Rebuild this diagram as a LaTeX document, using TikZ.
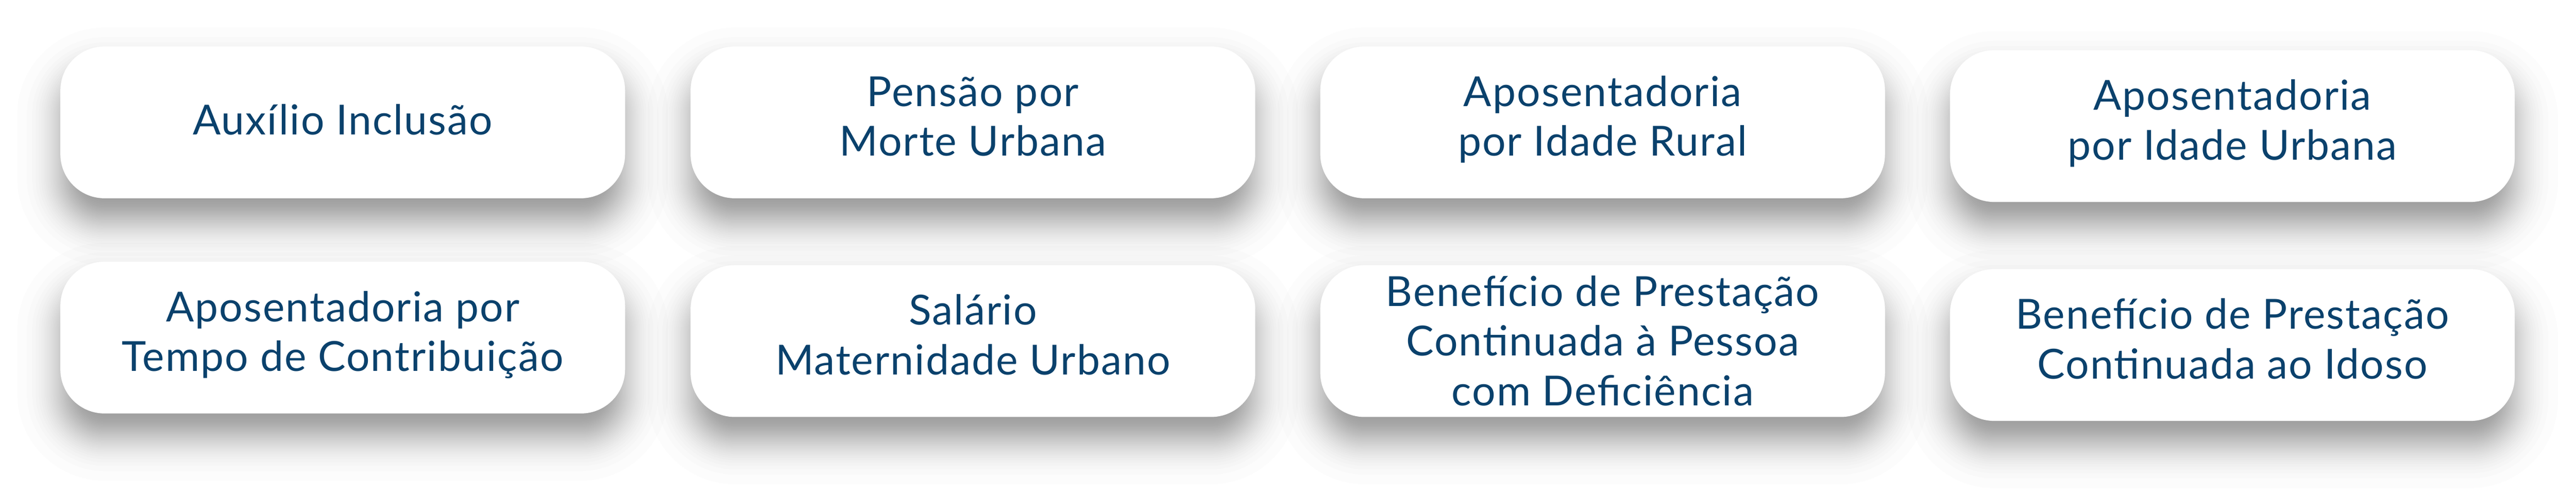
\documentclass[tikz,border=0pt]{standalone}
\usepackage{fontspec}
\setmainfont{Lato}[LetterSpace=2.6]
\definecolor{txtblue}{RGB}{10,65,108}
\newcommand\topstrut{\rule{0pt}{20pt}}
\newcommand\botstrut{\rule[-6pt]{0pt}{6pt}}
\tikzset{
  card/.style={rectangle, rounded corners=23.75pt, fill=white, minimum width=304pt,
    minimum height=81.75pt, inner sep=0pt},
  cardtext/.style={inner sep=0pt, align=center, text=txtblue,
    font=\fontsize{22.3}{26.75}\selectfont},
  shadowlayer/.style={fill=black, fill opacity=0.0127}
}
% shadow: gaussian-like blur sigma=11.25pt, offset down 13pt, spread -2pt
\newcommand\cardshadow[2]{%
  \foreach \z in {-2.24,-1.78,-1.53,-1.36,-1.21,-1.09,-0.98,-0.89,-0.80,-0.71,-0.64,-0.56,-0.49,-0.42,-0.35,-0.29,-0.22,-0.16,-0.09,-0.03,0.03,0.09,0.16,0.22,0.29,0.35,0.42,0.49,0.56,0.64,0.71,0.80,0.89,0.98,1.09,1.21,1.36,1.53,1.78,2.24}{%
    \pgfmathsetmacro\e{11.25*\z-2}%
    \pgfmathsetmacro\r{max(23.75+\e,0.5)}%
    \fill[shadowlayer, rounded corners=\r pt]
      (#1pt-152pt-\e pt, #2pt-40.875pt-13pt-\e pt) rectangle
      (#1pt+152pt+\e pt, #2pt+40.875pt-13pt+\e pt);
  }%
}
\begin{document}
\begin{tikzpicture}
\fill[white] (0,0) rectangle (1386.75pt,265.75pt);
\path[use as bounding box] (0,0) rectangle (1386.75pt,265.75pt);
% shadows
\cardshadow{184.5}{199.875}
\cardshadow{523.75}{199.875}
\cardshadow{862.75}{199.875}
\cardshadow{1201.75}{197.875}
\cardshadow{184.5}{84}
\cardshadow{523.75}{82.125}
\cardshadow{862.75}{82.125}
\cardshadow{1201.75}{80}
% cards
\node[card] (aux) at (184.5pt,199.875pt) {};
\node[card] (pensao) at (523.75pt,199.875pt) {};
\node[card] (rural) at (862.75pt,199.875pt) {};
\node[card] (urbana) at (1201.75pt,197.875pt) {};
\node[card] (tempo) at (184.5pt,84pt) {};
\node[card] (salario) at (523.75pt,82.125pt) {};
\node[card] (bpcdef) at (862.75pt,82.125pt) {};
\node[card] (bpcidoso) at (1201.75pt,80pt) {};
% texts
\node[cardtext, yshift=0.4pt] (aux-t) at (aux.center) {\topstrut Auxílio Inclusão\botstrut};
\node[cardtext, yshift=2.25pt] (pensao-t) at (pensao.center) {\topstrut Pensão por\\Morte Urbana\botstrut};
\node[cardtext, yshift=2.25pt] (rural-t) at (rural.center) {\topstrut Aposentadoria\\por Idade Rural\botstrut};
\node[cardtext, yshift=2.25pt] (urbana-t) at (urbana.center) {\topstrut Aposentadoria\\por Idade Urbana\botstrut};
\node[cardtext, yshift=2.25pt] (tempo-t) at (tempo.center) {\topstrut Aposentadoria por\\Tempo de Contribuição\botstrut};
\node[cardtext, yshift=2.25pt] (salario-t) at (salario.center) {\topstrut Salário\\Maternidade Urbano\botstrut};
\node[cardtext, yshift=-0.9pt] (bpcdef-t) at (bpcdef.center) {\topstrut Benefício de Prestação\\Continuada à Pessoa\\com Deficiência\botstrut};
\node[cardtext, yshift=2.25pt] (bpcidoso-t) at (bpcidoso.center) {\topstrut Benefício de Prestação\\Continuada ao Idoso\botstrut};
\end{tikzpicture}
\end{document}
